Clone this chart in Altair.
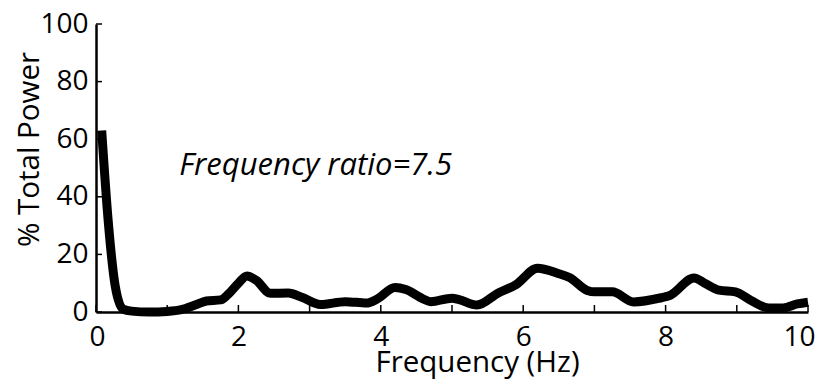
import altair as alt
import pandas as pd

freq = [0.08, 0.17, 0.27, 0.38, 0.5, 0.75, 1.0, 1.2, 1.4, 1.55, 1.75, 1.85, 2.0, 2.12,
        2.25, 2.45, 2.7, 2.9, 3.15, 3.5, 3.8, 3.95, 4.2, 4.35, 4.6, 4.7, 5.0, 5.1,
        5.35, 5.65, 5.9, 6.2, 6.5, 6.65, 6.9, 7.0, 7.25, 7.55, 7.95, 8.05, 8.4,
        8.55, 8.75, 8.98, 9.2, 9.45, 9.65, 9.85, 10.0]
power = [63, 32, 9, 1, 0.3, 0, 0.2, 0.8, 2.5, 3.8, 4.2, 6, 10, 12.5,
         11, 6.5, 6.6, 5, 2.6, 3.6, 3.1, 4.5, 8.5, 7.8, 4.5, 3.6, 4.8, 4.3,
         2.4, 6.6, 9.5, 15.2, 13.3, 12, 7.5, 7, 7, 3.5, 5, 5.6, 11.8,
         10, 7.6, 7, 4, 1.4, 1.4, 2.8, 3.4]

x_ticks = [0, 1, 2, 3, 4, 5, 6, 7, 8, 9, 10]
x_labels = [0, 2, 4, 6, 8, 10]
y_ticks = [0, 20, 40, 60, 80, 100]

annotation = ["Frequency ratio=7.5"]
ann_x = [1.17]
ann_y = [47.5]

FONT = "Open Sans"

df = pd.DataFrame({"freq": freq, "power": power})
xt = pd.DataFrame({"t": x_ticks})
yt = pd.DataFrame({"v": y_ticks})
ann = pd.DataFrame({"label": annotation, "x": ann_x, "y": ann_y})

xscale = alt.Scale(domain=[0, 10], nice=False, zero=False)
yscale = alt.Scale(domain=[0, 100], nice=False)

line = alt.Chart(df).mark_line(
    color="black", strokeWidth=9, strokeJoin="round", strokeCap="butt",
    interpolate="monotone"
).encode(
    x=alt.X("freq:Q", scale=xscale, axis=alt.Axis(
        title="Frequency (Hz)", values=x_labels, format="d",
        labelFlush=True, labelFlushOffset=7,
        titleX=381, titleY=59, titleBaseline="alphabetic", titleAlign="center",
        labelPadding=11)),
    y=alt.Y("power:Q", scale=yscale, axis=alt.Axis(
        title="% Total Power", values=y_ticks, format="d",
        titleX=-58, titleY=125, titleBaseline="alphabetic", titleAlign="center",
        labelPadding=8)),
)

xtick_layer = alt.Chart(xt).mark_rule(color="black", strokeWidth=1.5).encode(
    x=alt.X("t:Q", scale=xscale),
    y=alt.value(288), y2=alt.value(281),
)

ytick_layer = alt.Chart(yt).mark_rule(color="black", strokeWidth=1.5).encode(
    y=alt.Y("v:Q", scale=yscale),
    x=alt.value(0), x2=alt.value(6),
)

text = alt.Chart(ann).mark_text(
    font=FONT, fontSize=31, fontStyle="italic", align="left", baseline="alphabetic",
    color="black"
).encode(
    x=alt.X("x:Q", scale=xscale),
    y=alt.Y("y:Q", scale=yscale),
    text="label:N",
)

chart = alt.layer(line, xtick_layer, ytick_layer, text).properties(
    width=712, height=288,
    autosize=alt.AutoSizeParams(type="none"),
    padding={"left": 88, "top": 16, "right": 8, "bottom": 68},
).configure_view(stroke=None).configure_axis(
    grid=False, ticks=False, tickSize=0,
    domainColor="black", domainWidth=2.5,
    labelFont=FONT, labelFontSize=28, labelColor="black",
    titleFont=FONT, titleFontSize=29.5, titleColor="black", titleFontWeight="normal",
)

chart.save("out.html", embed_options={"renderer": "svg", "actions": False})
